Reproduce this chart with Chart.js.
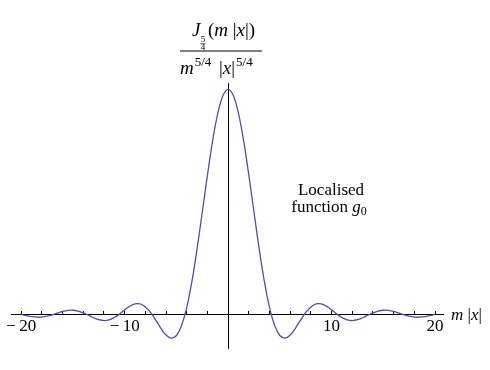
<!DOCTYPE html>
<html><head><meta charset="utf-8">
<script src="https://cdn.jsdelivr.net/npm/chart.js@4/dist/chart.umd.min.js"></script>
<style>html,body{margin:0;padding:0;background:#fff}#wrap{width:490px;height:370px}</style>
</head><body><div id="wrap"><canvas id="c" width="490" height="370"></canvas></div>
<script>
// x = m|x| samples, y = J_{5/4}(m|x|)/(m^{5/4}|x|^{5/4}) read/estimated for the curve
const xValues = [-20,-19.5,-19,-18.5,-18,-17.5,-17,-16.5,-16,-15.5,-15,-14.5,-14,-13.5,-13,-12.5,-12,-11.5,-11,-10.5,-10,-9.5,-9,-8.5,-8,-7.5,-7,-6.5,-6,-5.5,-5,-4.5,-4,-3.5,-3,-2.5,-2,-1.5,-1,-0.5,
  0,0.5,1,1.5,2,2.5,3,3.5,4,4.5,5,5.5,6,6.5,7,7.5,8,8.5,9,9.5,10,10.5,11,11.5,12,12.5,13,13.5,14,14.5,15,15.5,16,16.5,17,17.5,18,18.5,19,19.5,20];
const gValues = [0.0000,-0.0021,-0.0039,-0.0048,-0.0046,-0.0032,-0.0009,0.0020,0.0047,0.0064,0.0067,0.0053,0.0023,-0.0016,-0.0057,-0.0089,-0.0103,-0.0091,-0.0053,0.0005,0.0073,0.0134,0.0171,0.0170,0.0122,0.0030,-0.0096,-0.0231,-0.0342,-0.0393,-0.0350,-0.0185,0.0114,0.0544,0.1081,0.1683,0.2296,0.2860,0.3314,0.3609,
  0.3711,0.3609,0.3314,0.2860,0.2296,0.1683,0.1081,0.0544,0.0114,-0.0185,-0.0350,-0.0393,-0.0342,-0.0231,-0.0096,0.0030,0.0122,0.0170,0.0171,0.0134,0.0073,0.0005,-0.0053,-0.0091,-0.0103,-0.0089,-0.0057,-0.0016,0.0023,0.0053,0.0067,0.0064,0.0047,0.0020,-0.0009,-0.0032,-0.0046,-0.0048,-0.0039,-0.0021,0.0000];
const xTickValues = [-20,-18,-16,-14,-12,-10,-8,-6,-4,-2,2,4,6,8,10,12,14,16,18,20];
const xTickLabels = {"-20":"\u2212\u200920","-10":"\u2212\u200910","10":"10","20":"20"};
const noteLines = ["Localised", "function"];

const SERIF = '"Liberation Serif","Times New Roman",serif';

const textPlugin = {
  id: 'texts',
  afterDraw(chart) {
    const ctx = chart.ctx;
    ctx.save();
    ctx.fillStyle = '#000';
    ctx.textBaseline = 'alphabetic';
    ctx.textAlign = 'left';
    function run(pieces, x, y) {
      for (const p of pieces) {
        ctx.font = (p.i ? 'italic ' : '') + p.s + 'px ' + SERIF;
        ctx.fillText(p.t, x, y);
        x += ctx.measureText(p.t).width;
      }
      return x;
    }
    // x-axis label  m |x|
    run([{t:'m', i:true, s:17}, {t:' |', s:17}, {t:'x', i:true, s:17}, {t:'|', s:17}], 451, 320);

    // fraction label at top of y axis
    run([{t:'J', i:true, s:19}], 192, 36);
    ctx.font = '9px ' + SERIF;
    ctx.textAlign = 'center';
    ctx.fillText('5', 203, 42);
    ctx.fillText('4', 203, 50);
    ctx.fillRect(200.5, 43.5, 5, 0.7);
    ctx.textAlign = 'left';
    run([{t:'(', s:19}, {t:'m', i:true, s:19}, {t:' |', s:19}, {t:'x', i:true, s:19}, {t:'|)', s:19}], 208, 36);
    ctx.fillRect(180, 50.5, 82, 1);
    const mEnd = run([{t:'m', i:true, s:19}], 180, 74);
    run([{t:'5/4', s:13}], mEnd + 1, 66);
    const xEnd = run([{t:'|', s:19}, {t:'x', i:true, s:19}, {t:'|', s:19}], 219, 74);
    run([{t:'5/4', s:13}], xEnd + 1, 66);

    // note text
    ctx.font = '17px ' + SERIF;
    const w1 = ctx.measureText(noteLines[0]).width;
    ctx.fillText(noteLines[0], 331 - w1 / 2, 195);
    const wa = ctx.measureText(noteLines[1] + ' ').width;
    ctx.font = 'italic 17px ' + SERIF;
    const wg = ctx.measureText('g').width;
    ctx.font = '12px ' + SERIF;
    const w0 = ctx.measureText('0').width;
    let sx = 329 - (wa + wg + w0) / 2;
    ctx.font = '17px ' + SERIF;
    ctx.fillText(noteLines[1] + ' ', sx, 212);
    sx += wa;
    ctx.font = 'italic 17px ' + SERIF;
    ctx.fillText('g', sx, 212);
    sx += wg;
    ctx.font = '12px ' + SERIF;
    ctx.fillText('0', sx, 215);
    ctx.restore();
  }
};

new Chart(document.getElementById('c'), {
  type: 'line',
  data: {
    datasets: [{
      data: xValues.map((v, i) => ({x: v, y: gValues[i]})),
      borderColor: '#4f4fa6',
      borderWidth: 1.3,
      pointRadius: 0,
      tension: 0.4,
      fill: false
    }]
  },
  options: {
    responsive: false,
    animation: false,
    events: [],
    layout: {padding: {left: 11, right: 47, top: 83, bottom: 22}},
    plugins: {legend: {display: false}, tooltip: {enabled: false}, title: {display: false}},
    scales: {
      x: {
        type: 'linear', min: -20.93, max: 20.77,
        position: {y: 0},
        afterFit: s => { s.height = 0; },
        afterBuildTicks: s => { s.ticks = xTickValues.map(v => ({value: v})); },
        grid: {drawOnChartArea: false, drawTicks: true, tickLength: -4, color: '#000', tickWidth: 1},
        border: {color: '#000', width: 1},
        ticks: {
          autoSkip: false, maxRotation: 0, padding: 6, color: '#000',
          font: {family: SERIF, size: 17},
          callback: v => xTickLabels[String(v)] || ''
        }
      },
      y: {
        type: 'linear', min: -0.0556, max: 0.3815,
        position: {x: 0},
        afterFit: s => { s.width = 0; },
        ticks: {display: false},
        grid: {drawOnChartArea: false, drawTicks: false},
        border: {color: '#000', width: 1}
      }
    }
  },
  plugins: [textPlugin]
});
</script>
</body></html>
